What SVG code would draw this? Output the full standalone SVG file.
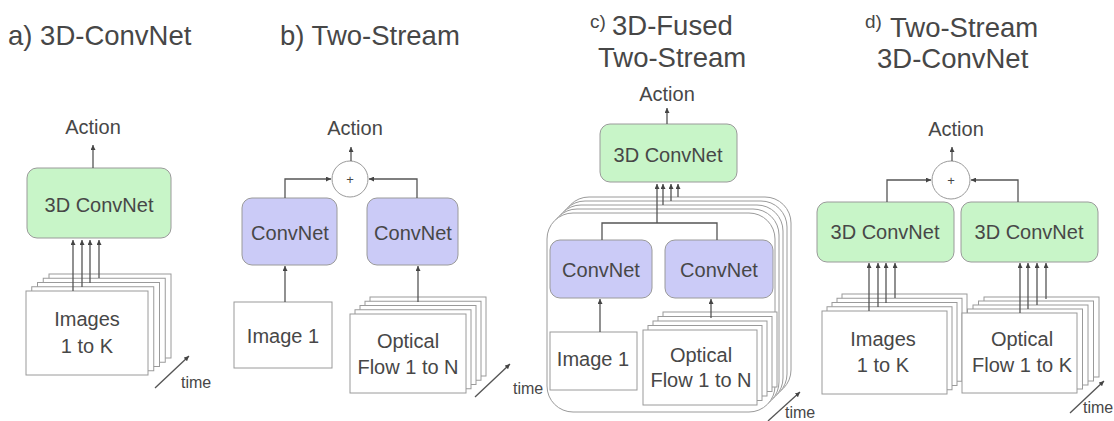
<svg xmlns="http://www.w3.org/2000/svg" width="1114" height="421" viewBox="0 0 1114 421">
<defs>
<style>
text{font-family:"Liberation Sans",Arial,sans-serif;fill:#474747}
.title{font-size:27.5px}
.sm{font-size:19px}
.lbl{font-size:20px;text-anchor:middle}
.time{font-size:16px}
.plus{font-size:13px;text-anchor:middle}
.green{fill:#c8f5c8;stroke:#9a9a9a;stroke-width:1}
.purple{fill:#cbcbf7;stroke:#9a9a9a;stroke-width:1}
.frame{fill:#fff;stroke:#9a9a9a;stroke-width:1}
.circ{fill:#fff;stroke:#9a9a9a;stroke-width:1}
.conn{fill:none;stroke:#555;stroke-width:1.3}
.arr{marker-end:url(#ah)}
</style>
<marker id="ah" viewBox="0 0 6 6" refX="6" refY="3" markerWidth="5" markerHeight="5" orient="auto" markerUnits="userSpaceOnUse"><path d="M0,0 L6,3 L0,6 z" fill="#444"/></marker>
</defs>
<rect width="1114" height="421" fill="#fff"/>

<!-- titles -->
<g id="titles">
<text class="title" x="8" y="45">a) 3D-ConvNet</text>
<text class="title" x="280" y="45">b) Two-Stream</text>
<text class="sm" x="590" y="28">c)</text>
<text class="title" x="612" y="35">3D-Fused</text>
<text class="title" x="598" y="67">Two-Stream</text>
<text class="sm" x="865" y="28">d)</text>
<text class="title" x="890" y="37">Two-Stream</text>
<text class="title" x="877" y="68">3D-ConvNet</text>
</g>

<!-- panel a -->
<g id="a-action"><text class="lbl" x="93" y="134">Action</text></g>
<g id="a-convnet"><rect class="green" x="27" y="168" width="144" height="70" rx="10"/><text class="lbl" x="99" y="212">3D ConvNet</text></g>
<g id="a-images">
<rect class="frame" x="49" y="274" width="122" height="84"/>
<rect class="frame" x="43.25" y="278.25" width="122" height="84"/>
<rect class="frame" x="37.5" y="282.5" width="122" height="84"/>
<rect class="frame" x="31.75" y="286.75" width="122" height="84"/>
<rect class="frame" x="26" y="291" width="122" height="84"/>
<text class="lbl" x="87" y="326">Images</text>
<text class="lbl" x="87" y="353">1 to K</text>
</g>
<g id="a-time"><line class="conn arr" x1="155" y1="388" x2="189" y2="356"/><text class="time" x="181" y="388">time</text></g>

<!-- panel b -->
<g id="b-action"><text class="lbl" x="355" y="135">Action</text></g>
<g id="b-sum"><circle class="circ" cx="350" cy="179" r="18"/><text class="plus" x="350" y="184">+</text></g>
<g id="b-convnet1"><rect class="purple" x="242" y="198" width="95" height="67" rx="10"/><text class="lbl" x="290" y="240">ConvNet</text></g>
<g id="b-convnet2"><rect class="purple" x="367" y="198" width="91" height="67" rx="10"/><text class="lbl" x="413" y="240">ConvNet</text></g>
<g id="b-image1"><rect class="frame" x="234" y="302" width="98" height="66"/><text class="lbl" x="283" y="343">Image 1</text></g>
<g id="b-flow">
<rect class="frame" x="370" y="297" width="116" height="79"/>
<rect class="frame" x="365" y="301.25" width="116" height="79"/>
<rect class="frame" x="360" y="305.5" width="116" height="79"/>
<rect class="frame" x="355" y="309.75" width="116" height="79"/>
<rect class="frame" x="350" y="314" width="116" height="79"/>
<text class="lbl" x="408" y="348">Optical</text>
<text class="lbl" x="408" y="374">Flow 1 to N</text>
</g>
<g id="b-time"><line class="conn arr" x1="475" y1="397" x2="510" y2="364"/><text class="time" x="513" y="394">time</text></g>

<!-- panel c -->
<g id="c-action"><text class="lbl" x="667" y="101">Action</text></g>
<g id="c-convnet3d"><rect class="green" x="600" y="124" width="137" height="58" rx="10"/><text class="lbl" x="668" y="162">3D ConvNet</text></g>
<g id="c-container">
<rect class="frame" x="563" y="197" width="228" height="199" rx="26"/>
<rect class="frame" x="559" y="201" width="228" height="199" rx="26"/>
<rect class="frame" x="555" y="205" width="228" height="199" rx="26"/>
<rect class="frame" x="551" y="209" width="228" height="199" rx="26"/>
<rect class="frame" x="547" y="213" width="228" height="199" rx="26"/>
</g>
<g id="c-convnet1"><rect class="purple" x="550" y="240" width="102" height="58" rx="10"/><text class="lbl" x="601" y="277">ConvNet</text></g>
<g id="c-convnet2"><rect class="purple" x="665" y="240" width="108" height="58" rx="10"/><text class="lbl" x="719" y="277">ConvNet</text></g>
<g id="c-image1"><rect class="frame" x="550" y="332" width="87" height="58"/><text class="lbl" x="593" y="366">Image 1</text></g>
<g id="c-flow">
<rect class="frame" x="663" y="312" width="114" height="75"/>
<rect class="frame" x="658" y="316.5" width="114" height="75"/>
<rect class="frame" x="653" y="321" width="114" height="75"/>
<rect class="frame" x="648" y="325.5" width="114" height="75"/>
<rect class="frame" x="643" y="330" width="114" height="75"/>
<text class="lbl" x="701" y="362">Optical</text>
<text class="lbl" x="701" y="387">Flow 1 to N</text>
</g>
<g id="c-time"><line class="conn arr" x1="768" y1="421" x2="800" y2="392"/><text class="time" x="785" y="418">time</text></g>

<!-- panel d -->
<g id="d-action"><text class="lbl" x="956" y="136">Action</text></g>
<g id="d-sum"><circle class="circ" cx="951" cy="180" r="19"/><text class="plus" x="951" y="185">+</text></g>
<g id="d-convnet1"><rect class="green" x="817" y="202" width="137" height="60" rx="10"/><text class="lbl" x="885" y="239">3D ConvNet</text></g>
<g id="d-convnet2"><rect class="green" x="961" y="202" width="137" height="60" rx="10"/><text class="lbl" x="1029" y="239">3D ConvNet</text></g>
<g id="d-images">
<rect class="frame" x="842" y="294" width="125" height="83"/>
<rect class="frame" x="837" y="298.25" width="125" height="83"/>
<rect class="frame" x="832" y="302.5" width="125" height="83"/>
<rect class="frame" x="827" y="306.75" width="125" height="83"/>
<rect class="frame" x="822" y="311" width="125" height="83"/>
<text class="lbl" x="883" y="346">Images</text>
<text class="lbl" x="883" y="372">1 to K</text>
</g>
<g id="d-flow">
<rect class="frame" x="984" y="297" width="115" height="80"/>
<rect class="frame" x="978.5" y="301" width="115" height="80"/>
<rect class="frame" x="973" y="305" width="115" height="80"/>
<rect class="frame" x="967.5" y="309" width="115" height="80"/>
<rect class="frame" x="962" y="313" width="115" height="80"/>
<text class="lbl" x="1022" y="346">Optical</text>
<text class="lbl" x="1022" y="372">Flow 1 to K</text>
</g>
<g id="d-time"><line class="conn arr" x1="1070" y1="413" x2="1104" y2="381"/><text class="time" x="1083" y="413">time</text></g>

<!-- connectors -->
<g id="connectors">
<line class="conn arr" x1="93" y1="168" x2="93" y2="145"/>
<line class="conn arr" x1="73" y1="291" x2="73" y2="240"/>
<line class="conn arr" x1="82" y1="287" x2="82" y2="240"/>
<line class="conn arr" x1="90" y1="283" x2="90" y2="240"/>
<line class="conn arr" x1="99" y1="278" x2="99" y2="240"/>

<line class="conn arr" x1="351" y1="161" x2="351" y2="147"/>
<path class="conn arr" d="M285,198 V179 H331"/>
<path class="conn arr" d="M417,198 V179 H369"/>
<line class="conn arr" x1="285" y1="302" x2="285" y2="266"/>
<line class="conn arr" x1="418" y1="302" x2="418" y2="266"/>

<line class="conn arr" x1="667" y1="124" x2="667" y2="108"/>
<path class="conn" d="M602,240 V223 H717 V240"/>
<line class="conn arr" x1="657" y1="223" x2="657" y2="184"/>
<line class="conn arr" x1="663" y1="205" x2="663" y2="184"/>
<line class="conn arr" x1="671" y1="201" x2="671" y2="184"/>
<line class="conn arr" x1="678" y1="197" x2="678" y2="184"/>
<line class="conn arr" x1="600" y1="332" x2="600" y2="299"/>
<line class="conn arr" x1="711" y1="318" x2="711" y2="299"/>

<line class="conn arr" x1="952" y1="161" x2="952" y2="147"/>
<path class="conn arr" d="M887,202 V180 H931"/>
<path class="conn arr" d="M1018,202 V180 H971"/>
<line class="conn arr" x1="869" y1="311" x2="869" y2="263"/>
<line class="conn arr" x1="878" y1="307" x2="878" y2="263"/>
<line class="conn arr" x1="886" y1="303" x2="886" y2="263"/>
<line class="conn arr" x1="895" y1="298" x2="895" y2="263"/>
<line class="conn arr" x1="1020" y1="313" x2="1020" y2="263"/>
<line class="conn arr" x1="1028" y1="309" x2="1028" y2="263"/>
<line class="conn arr" x1="1037" y1="305" x2="1037" y2="263"/>
<line class="conn arr" x1="1046" y1="299" x2="1046" y2="263"/>
</g>
</svg>
